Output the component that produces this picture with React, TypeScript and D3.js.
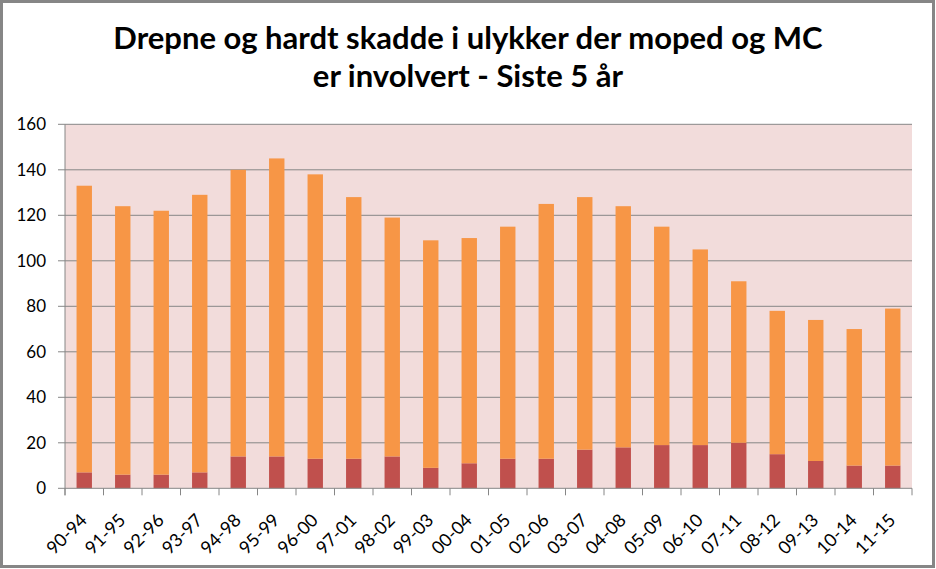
import { useEffect, useRef } from 'react';
import * as d3 from 'd3';

const periods = [
  '90-94', '91-95', '92-96', '93-97', '94-98', '95-99', '96-00', '97-01', '98-02', '99-03', '00-04',
  '01-05', '02-06', '03-07', '04-08', '05-09', '06-10', '07-11', '08-12', '09-13', '10-14', '11-15',
];
// drepne (killed), bottom segment
const drepne = [7, 6, 6, 7, 14, 14, 13, 13, 14, 9, 11, 13, 13, 17, 18, 19, 19, 20, 15, 12, 10, 10];
// hardt skadde (seriously injured), stacked on top
const hardtSkadde = [126, 118, 116, 122, 126, 131, 125, 115, 105, 100, 99, 102, 112, 111, 106, 96, 86, 71, 63, 62, 60, 69];
const yTicks = [0, 20, 40, 60, 80, 100, 120, 140, 160];
const titleLines = ['Drepne og hardt skadde i ulykker der moped og MC', 'er involvert - Siste 5 år'];

const W = 936;
const H = 569;
const FONT = 'Lato, "Open Sans", sans-serif';

export default function App() {
  const ref = useRef<SVGSVGElement>(null);

  useEffect(() => {
    if (!ref.current) return;
    document.body.style.margin = '0';
    const svg = d3.select(ref.current);
    svg.selectAll('*').remove();

    const left = 65, right = 912, top = 124.3, bottom = 488.3;

    const x = d3.scaleBand<string>().domain(periods).range([left, right]).padding(0);
    const y = d3.scaleLinear().domain([0, 160]).range([bottom, top]);
    const barW = x.step() * 0.4;

    // chart background + border
    svg.append('rect')
      .attr('x', 1.5).attr('y', 1.5)
      .attr('width', W - 4).attr('height', H - 4)
      .attr('fill', '#fff')
      .attr('stroke', '#868686')
      .attr('stroke-width', 3);

    // title
    svg.append('g')
      .selectAll('text')
      .data(titleLines)
      .join('text')
      .attr('x', 468)
      .attr('y', (_, i) => 49 + i * 38)
      .attr('text-anchor', 'middle')
      .style('font-family', FONT)
      .style('font-weight', 'bold')
      .style('font-size', '31px')
      .style('fill', '#000')
      .text(d => d);

    // plot area
    svg.append('rect')
      .attr('x', left).attr('y', top)
      .attr('width', right - left).attr('height', bottom - top)
      .attr('fill', '#f2dcdb');

    // gridlines + y ticks
    svg.append('g')
      .selectAll('line')
      .data(yTicks.filter(t => t > 0))
      .join('line')
      .attr('x1', left - 7).attr('x2', right)
      .attr('y1', d => y(d)).attr('y2', d => y(d))
      .attr('stroke', '#868686')
      .attr('stroke-width', 1);

    svg.append('g')
      .selectAll('text')
      .data(yTicks)
      .join('text')
      .attr('x', 46)
      .attr('y', d => y(d))
      .attr('dy', '0.36em')
      .attr('text-anchor', 'end')
      .style('font-family', FONT)
      .style('font-size', '17px')
      .style('fill', '#000')
      .text(d => d);

    // stacked bars
    const stack = d3.stack<number>()
      .keys(['drepne', 'hardtSkadde'])
      .value((i, key) => (key === 'drepne' ? drepne[i] : hardtSkadde[i]));
    const series = stack(d3.range(periods.length));
    const colors = ['#c0504d', '#f79646'];

    svg.append('g')
      .selectAll('g')
      .data(series)
      .join('g')
      .attr('fill', (_, i) => colors[i])
      .selectAll('rect')
      .data(d => d)
      .join('rect')
      .attr('x', d => (x(periods[d.data]) as number) + (x.step() - barW) / 2)
      .attr('width', barW)
      .attr('y', d => y(d[1]))
      .attr('height', d => y(d[0]) - y(d[1]));

    // axes lines
    svg.append('line')
      .attr('x1', left - 7).attr('x2', right)
      .attr('y1', bottom).attr('y2', bottom)
      .attr('stroke', '#868686');
    svg.append('line')
      .attr('x1', left).attr('x2', left)
      .attr('y1', top).attr('y2', bottom + 7)
      .attr('stroke', '#868686');

    // x ticks at category boundaries
    const bounds = periods.map(p => x(p) as number).concat([right]);
    svg.append('g')
      .selectAll('line')
      .data(bounds)
      .join('line')
      .attr('x1', d => d).attr('x2', d => d)
      .attr('y1', bottom).attr('y2', bottom + 7)
      .attr('stroke', '#868686');

    // x labels rotated
    svg.append('g')
      .selectAll('text')
      .data(periods)
      .join('text')
      .attr('transform', d => `translate(${(x(d) as number) + x.step() / 2 + 4},${bottom + 33}) rotate(-45)`)
      .attr('text-anchor', 'end')
      .style('font-family', FONT)
      .style('font-size', '18px')
      .style('fill', '#000')
      .text(d => d);
  }, []);

  return <svg ref={ref} width={W} height={H} style={{ display: 'block' }} />;
}
